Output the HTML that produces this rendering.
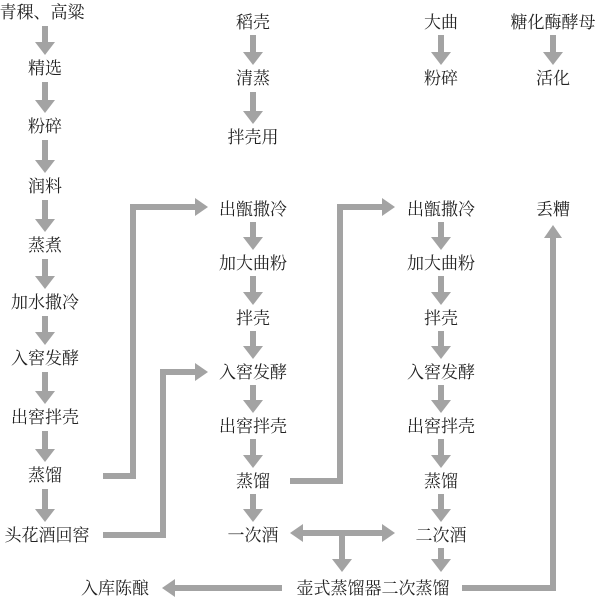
<!DOCTYPE html>
<html><head><meta charset="utf-8"><style>
html,body{margin:0;padding:0;background:#fff}
svg{display:block}
text{font-family:"Liberation Serif","Noto Serif CJK SC",serif;font-size:17px;fill:#222;text-anchor:middle}
</style></head><body>
<svg width="605" height="599" viewBox="0 0 605 599" xmlns="http://www.w3.org/2000/svg">
<g fill="#a3a3a3">
<!-- col1 down arrows -->
<rect x="42" y="26" width="6" height="17"/><polygon points="35,42 55,42 45,55"/>
<rect x="42" y="82" width="6" height="19"/><polygon points="35,100 55,100 45,113"/>
<rect x="42" y="140" width="6" height="21"/><polygon points="35,160 55,160 45,173"/>
<rect x="42" y="200" width="6" height="20"/><polygon points="35,219 55,219 45,232"/>
<rect x="42" y="259" width="6" height="18"/><polygon points="35,276 55,276 45,289"/>
<rect x="42" y="316" width="6" height="17"/><polygon points="35,332 55,332 45,345"/>
<rect x="42" y="372" width="6" height="20"/><polygon points="35,391 55,391 45,404"/>
<rect x="42" y="431" width="6" height="19"/><polygon points="35,449 55,449 45,462"/>
<rect x="42" y="489" width="6" height="21"/><polygon points="35,509 55,509 45,522"/>
<!-- col2 top -->
<rect x="250" y="35" width="6" height="18"/><polygon points="243,52 263,52 253,65"/>
<rect x="250" y="92" width="6" height="20"/><polygon points="243,111 263,111 253,124"/>
<!-- col3 top -->
<rect x="438" y="35" width="6" height="18"/><polygon points="431,52 451,52 441,65"/>
<!-- col4 top -->
<rect x="550" y="35" width="6" height="18"/><polygon points="543,52 563,52 553,65"/>
<!-- col2 & col3 lower -->
<g id="c2">
<rect x="250" y="222" width="6" height="16"/><polygon points="243,237 263,237 253,250"/>
<rect x="250" y="276" width="6" height="17"/><polygon points="243,292 263,292 253,305"/>
<rect x="250" y="331" width="6" height="16"/><polygon points="243,346 263,346 253,359"/>
<rect x="250" y="385" width="6" height="16"/><polygon points="243,400 263,400 253,413"/>
<rect x="250" y="439" width="6" height="17"/><polygon points="243,455 263,455 253,468"/>
<rect x="250" y="494" width="6" height="16"/><polygon points="243,509 263,509 253,522"/>
</g>
<use href="#c2" x="188"/>
<!-- 二次酒 down -->
<rect x="438" y="548" width="6" height="12"/><polygon points="431,559 451,559 441,572"/>
<!-- double arrow -->
<rect x="300" y="530" width="85" height="6"/>
<polygon points="303,524 303,542 290,533"/>
<polygon points="382,524 382,542 395,533"/>
<rect x="339" y="533" width="6" height="27"/><polygon points="332,559 352,559 342,572"/>
<!-- bottom left arrow -->
<rect x="172" y="585" width="110" height="6"/><polygon points="175,579 175,597 162,588"/>
<!-- elbows arrowheads -->
<polygon points="195,198 195,216 208,207"/>
<polygon points="195,363 195,381 208,372"/>
<polygon points="382,198 382,216 395,207"/>
<polygon points="544,238 562,238 553,225"/>
</g>
<g fill="none" stroke="#a3a3a3" stroke-width="6">
<polyline points="103,476 133,476 133,207 197,207"/>
<polyline points="103,535 163,535 163,372 197,372"/>
<polyline points="290,481 340,481 340,207 384,207"/>
<polyline points="462,588 553,588 553,236"/>
</g>
<text x="42" y="18">青稞、高粱</text>
<text x="45" y="74">精选</text>
<text x="45" y="132">粉碎</text>
<text x="45" y="192">润料</text>
<text x="45" y="251">蒸煮</text>
<text x="45" y="308">加水撒冷</text>
<text x="45" y="364">入窖发酵</text>
<text x="45" y="423">出窖拌壳</text>
<text x="45" y="481">蒸馏</text>
<text x="47" y="541">头花酒回窖</text>
<text x="253" y="28">稻壳</text>
<text x="253" y="84">清蒸</text>
<text x="253" y="143">拌壳用</text>
<text x="441" y="28">大曲</text>
<text x="441" y="84">粉碎</text>
<text x="553" y="28">糖化酶酵母</text>
<text x="553" y="84">活化</text>
<text x="553" y="215">丢糟</text>
<text x="253" y="215">出甑撒冷</text>
<text x="253" y="269">加大曲粉</text>
<text x="253" y="324">拌壳</text>
<text x="253" y="378">入窖发酵</text>
<text x="253" y="432">出窖拌壳</text>
<text x="253" y="487">蒸馏</text>
<text x="253" y="541">一次酒</text>
<text x="441" y="215">出甑撒冷</text>
<text x="441" y="269">加大曲粉</text>
<text x="441" y="324">拌壳</text>
<text x="441" y="378">入窖发酵</text>
<text x="441" y="432">出窖拌壳</text>
<text x="441" y="487">蒸馏</text>
<text x="441" y="541">二次酒</text>
<text x="373" y="594">壶式蒸馏器二次蒸馏</text>
<text x="115" y="594">入库陈酿</text>
</svg>
</body></html>
